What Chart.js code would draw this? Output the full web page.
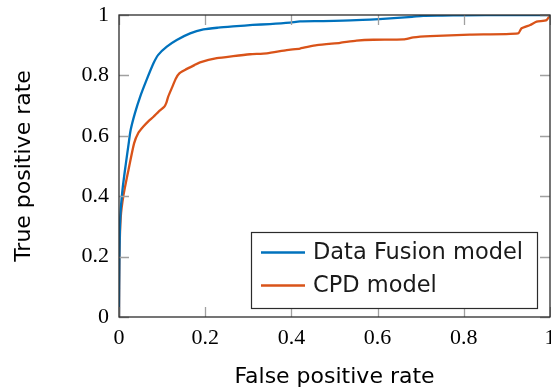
<!DOCTYPE html>
<html>
<head>
<meta charset="utf-8">
<script src="https://cdn.jsdelivr.net/npm/chart.js@4/dist/chart.umd.min.js"></script>
<style>
  html, body { margin: 0; padding: 0; background: #fff; }
  #wrap { width: 551px; height: 391px; position: relative; }
</style>
</head>
<body>
<div id="wrap"><canvas id="c" width="551" height="391"></canvas></div>
<script>
// ---- data ----
const seriesNames = ['Data Fusion model', 'CPD model'];
const fusionFpr = [0, 0.001, 0.003, 0.008, 0.016, 0.022, 0.027, 0.037, 0.049, 0.064, 0.080, 0.091, 0.111, 0.134, 0.165, 0.196, 0.23, 0.273, 0.31, 0.35, 0.397, 0.42, 0.474, 0.551, 0.629, 0.68, 0.706, 0.75, 0.8, 0.9, 1.0];
const fusionTpr = [0, 0.20, 0.33, 0.42, 0.509, 0.57, 0.619, 0.675, 0.729, 0.785, 0.840, 0.868, 0.895, 0.917, 0.939, 0.952, 0.958, 0.963, 0.967, 0.970, 0.975, 0.979, 0.980, 0.983, 0.989, 0.994, 0.997, 0.998, 0.999, 1.0, 1.0];
const cpdFpr = [0, 0.001, 0.004, 0.010, 0.022, 0.035, 0.045, 0.056, 0.068, 0.080, 0.092, 0.105, 0.110, 0.114, 0.124, 0.132, 0.140, 0.153, 0.175, 0.188, 0.227, 0.265, 0.304, 0.343, 0.389, 0.420, 0.459, 0.513, 0.551, 0.590, 0.660, 0.683, 0.722, 0.814, 0.926, 0.934, 0.954, 0.969, 0.992, 1.0];
const cpdTpr = [0, 0.20, 0.33, 0.40, 0.487, 0.575, 0.61, 0.630, 0.648, 0.663, 0.680, 0.696, 0.71, 0.729, 0.763, 0.79, 0.807, 0.818, 0.834, 0.843, 0.857, 0.864, 0.870, 0.873, 0.884, 0.889, 0.900, 0.908, 0.915, 0.918, 0.919, 0.926, 0.930, 0.935, 0.939, 0.956, 0.967, 0.978, 0.983, 1.0];
const xTickLabels = ['0', '0.2', '0.4', '0.6', '0.8', '1'];
const yTickLabels = ['0', '0.2', '0.4', '0.6', '0.8', '1'];
const xTitle = 'False positive rate';
const yTitle = 'True positive rate';
// ---------------------------------------

const colors = ['#0072BD', '#D95319'];
const toPts = (xs, ys) => xs.map((x, i) => ({ x: x, y: ys[i] }));
const sansFont = "'DejaVu Sans', sans-serif";
const serifFont = "'Liberation Serif', serif";

const frameAndTicks = {
  id: 'frameAndTicks',
  afterDatasetsDraw(chart) {
    const ctx = chart.ctx;
    const a = chart.chartArea;
    const xs = chart.scales.x, ys = chart.scales.y;
    const tl = 10;
    ctx.save();
    ctx.strokeStyle = '#a0a0a0';
    ctx.lineWidth = 1.3;
    ctx.beginPath();
    xs.ticks.forEach(t => {
      const px = Math.round(xs.getPixelForValue(t.value)) + 0.5;
      ctx.moveTo(px, a.bottom); ctx.lineTo(px, a.bottom - tl);
      ctx.moveTo(px, a.top); ctx.lineTo(px, a.top + tl);
    });
    ys.ticks.forEach(t => {
      const py = Math.round(ys.getPixelForValue(t.value)) + 0.5;
      ctx.moveTo(a.left, py); ctx.lineTo(a.left + tl, py);
      ctx.moveTo(a.right, py); ctx.lineTo(a.right - tl, py);
    });
    ctx.stroke();
    ctx.strokeStyle = '#2b2b2b';
    ctx.lineWidth = 1.3;
    ctx.strokeRect(a.left, a.top, a.right - a.left, a.bottom - a.top);
    ctx.restore();
  },
  afterDraw(chart) {
    const ctx = chart.ctx;
    const a = chart.chartArea;
    const bw = 286, bh = 76;
    const bx = a.right - 13 - bw, by = a.bottom - 9 - bh;
    ctx.save();
    ctx.fillStyle = '#ffffff';
    ctx.fillRect(bx, by, bw, bh);
    ctx.strokeStyle = '#2b2b2b';
    ctx.lineWidth = 1.2;
    ctx.strokeRect(bx + 0.5, by + 0.5, bw, bh);
    ctx.font = '22.5px ' + sansFont;
    ctx.textBaseline = 'middle';
    ctx.textAlign = 'left';
    chart.data.datasets.forEach((ds, i) => {
      const yy = by + 20.5 + i * 33;
      ctx.strokeStyle = ds.borderColor;
      ctx.lineWidth = 2.4;
      ctx.beginPath();
      ctx.moveTo(bx + 10, yy); ctx.lineTo(bx + 54, yy);
      ctx.stroke();
      ctx.fillStyle = '#1a1a1a';
      ctx.fillText(ds.label, bx + 62, yy + 1);
    });
    ctx.restore();
  }
};

new Chart(document.getElementById('c'), {
  type: 'line',
  data: {
    datasets: [
      { label: seriesNames[0], data: toPts(fusionFpr, fusionTpr), borderColor: colors[0], backgroundColor: colors[0], borderWidth: 2.3, pointRadius: 0, tension: 0.25, fill: false },
      { label: seriesNames[1], data: toPts(cpdFpr, cpdTpr), borderColor: colors[1], backgroundColor: colors[1], borderWidth: 2.3, pointRadius: 0, tension: 0.2, fill: false }
    ]
  },
  options: {
    responsive: false,
    animation: false,
    devicePixelRatio: 1,
    layout: { padding: { top: 15, right: 1, left: 0, bottom: 0 } },
    plugins: { legend: { display: false }, tooltip: { enabled: false } },
    scales: {
      x: {
        type: 'linear', min: 0, max: 1,
        grid: { display: false, drawTicks: false },
        border: { display: false },
        ticks: {
          stepSize: 0.2, padding: 8, maxRotation: 0, autoSkip: false,
          color: '#000', font: { family: serifFont, size: 22 },
          callback: (v, i) => xTickLabels[i]
        },
        title: { display: true, text: xTitle, color: '#000', font: { family: sansFont, size: 22 }, padding: { top: 0, bottom: 1 } },
        afterFit: s => { s.height = 74; s.paddingLeft = 0; s.paddingRight = 0; }
      },
      y: {
        type: 'linear', min: 0, max: 1,
        grid: { display: false, drawTicks: false },
        border: { display: false },
        ticks: {
          stepSize: 0.2, padding: 10, autoSkip: false,
          color: '#000', font: { family: serifFont, size: 22 },
          callback: (v, i) => yTickLabels[i]
        },
        title: { display: true, text: yTitle, color: '#000', font: { family: sansFont, size: 22 }, padding: { top: 11, bottom: 0 } },
        afterFit: s => { s.width = 119; s.paddingTop = 0; s.paddingBottom = 0; }
      }
    }
  },
  plugins: [frameAndTicks]
});
</script>
</body>
</html>
